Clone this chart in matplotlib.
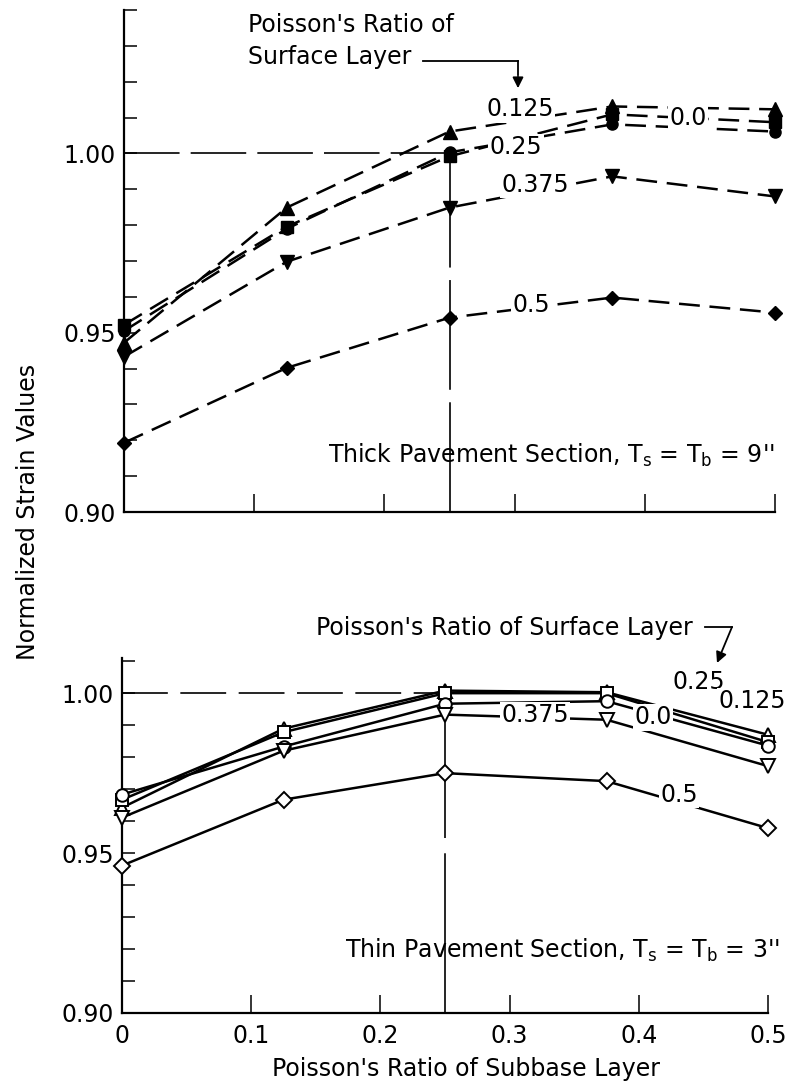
import numpy as np
import matplotlib
matplotlib.use('Agg')
from matplotlib import pyplot as plt
from matplotlib.lines import Line2D
from matplotlib.patches import FancyArrowPatch

# Poisson's ratio of subbase layer (x axis)
nu_sub = [0.0, 0.125, 0.25, 0.375, 0.5]

# thick pavement section, Ts = Tb = 9"  (filled markers, dashed)
thick_0125 = [0.9472, 0.9849, 1.0061, 1.0131, 1.0123]
thick_000 = [0.9522, 0.9796, 0.9992, 1.0109, 1.0087]
thick_025 = [0.9505, 0.9790, 1.0003, 1.0081, 1.0061]
thick_0375 = [0.9433, 0.9698, 0.9849, 0.9936, 0.9880]
thick_050 = [0.9193, 0.9402, 0.9542, 0.9598, 0.9556]

# thin pavement section, Ts = Tb = 3"  (open markers, solid)
thin_025 = [0.9642, 0.9889, 1.0008, 1.0003, 0.9870]
thin_0125 = [0.9667, 0.9878, 1.0000, 1.0000, 0.9847]
thin_000 = [0.9683, 0.9833, 0.9967, 0.9975, 0.9836]
thin_0375 = [0.9611, 0.9820, 0.9933, 0.9917, 0.9772]
thin_050 = [0.9461, 0.9667, 0.9750, 0.9725, 0.9578]

x_ticks = [0, 0.1, 0.2, 0.3, 0.4, 0.5]
x_labels = ['0', '0.1', '0.2', '0.3', '0.4', '0.5']
y_ticks = [0.90, 0.95, 1.00]
y_labels = ['0.90', '0.95', '1.00']

matplotlib.rcParams['font.family'] = 'DejaVu Sans'
matplotlib.rcParams['font.size'] = 17
matplotlib.rcParams['lines.scale_dashes'] = False
matplotlib.rcParams['mathtext.default'] = 'regular'

W, H = 795, 1081
f1 = plt.figure(figsize=(W / 100, H / 100), dpi=100)

def px(x0, y0, x1, y1):
    # box in pixel (top-left origin) -> figure fraction
    return [x0 / W, 1 - y1 / H, (x1 - x0) / W, (y1 - y0) / H]

def fp(x, y):
    # pixel point (top-left origin) -> figure fraction
    return (x / W, 1 - y / H)

ax1 = f1.add_axes(px(124, 10, 775, 512))
ax2 = f1.add_axes(px(122, 658, 768, 1013))

def style_axes(ax, ytop, show_x):
    for s in ('top', 'right'):
        ax.spines[s].set_visible(False)
    ax.spines['left'].set_linewidth(1.6)
    ax.spines['bottom'].set_linewidth(1.6)
    ax.set_xlim(0, 0.5)
    ax.set_ylim(0.90, ytop)
    ax.set_xticks(x_ticks)
    ax.set_xticklabels(x_labels if show_x else [])
    ax.set_yticks(y_ticks)
    ax.set_yticklabels(y_labels)
    ax.set_yticks(np.arange(0.91, ytop + 1e-4, 0.01), minor=True)
    ax.tick_params(axis='y', which='both', direction='in', length=9,
                   width=1.1, pad=6, labelsize=17)
    ax.tick_params(axis='x', which='major', direction='in', length=13,
                   width=1.1, pad=8, labelsize=17)
    ax.xaxis.get_major_ticks()[0].tick1line.set_visible(False)

style_axes(ax1, 1.04, False)
style_axes(ax2, 1.011, True)

# guide lines at 1.00 and 0.25
ax1.hlines(1.0, 0, 0.25, colors='k', lw=1.2, linestyles=(0, (40, 8)))
ax1.vlines(0.25, 0.90, 1.0, colors='k', lw=1.2, linestyles=(0, (79, 9)))
ax2.hlines(1.0, 0, 0.25, colors='k', lw=1.2, linestyles=(0, (33, 9)))
ax2.vlines(0.25, 0.90, 1.0, colors='k', lw=1.2, linestyles=(0, (115, 11)))

# thick section
dash = (0, (15, 7))
for yv, mk, ms in ((thick_0125, '^', 10), (thick_000, 's', 8),
                   (thick_025, 'o', 8), (thick_0375, 'v', 10),
                   (thick_050, 'D', 7)):
    ax1.plot(nu_sub, yv, ls=dash, c='k', lw=1.8, marker=mk, ms=ms,
             mfc='k', mec='k', zorder=3, clip_on=False)

# thin section
for yv, mk, ms in ((thin_025, '^', 10), (thin_0125, 's', 8),
                   (thin_000, 'o', 9), (thin_0375, 'v', 10),
                   (thin_050, 'D', 8)):
    ax2.plot(nu_sub, yv, ls='-', c='k', lw=1.8, marker=mk, ms=ms,
             mfc='white', mec='k', mew=1.4, zorder=3, clip_on=False)

box = dict(fc='white', ec='none', pad=1.0)
for ax, txt, x, y in ((ax1, '0.125', 0.304, 1.0123), (ax1, '0.0', 0.433, 1.0100),
                      (ax1, '0.25', 0.301, 1.0017), (ax1, '0.375', 0.316, 0.9913),
                      (ax1, '0.5', 0.3126, 0.9578),
                      (ax2, '0.25', 0.4466, 1.0036), (ax2, '0.125', 0.4876, 0.9975),
                      (ax2, '0.375', 0.3197, 0.9931), (ax2, '0.0', 0.411, 0.9925),
                      (ax2, '0.5', 0.431, 0.9683)):
    ax.text(x, y, txt, ha='center', va='center', bbox=box, zorder=5)

ax1.text(1.0, 0.1135, "Thick Pavement Section, $T_s$ = $T_b$ = 9''",
         transform=ax1.transAxes, ha='right', va='center')
ax2.text(1.0186, 0.177, "Thin Pavement Section, $T_s$ = $T_b$ = 3''",
         transform=ax2.transAxes, ha='right', va='center')

# surface layer captions with arrows
f1.text(*fp(248, 25), "Poisson's Ratio of", ha='left', va='center')
t_top = f1.text(*fp(248, 57), "Surface Layer", ha='left', va='center')
t_bot = f1.text(*fp(693, 628), "Poisson's Ratio of Surface Layer",
                ha='right', va='center')

f1.canvas.draw()
x_end = t_top.get_window_extent().x1 + 12

f1.add_artist(Line2D([x_end / W, 518 / W], [1 - 61 / H, 1 - 61 / H],
                     color='k', lw=1.3))
f1.add_artist(Line2D([518 / W, 518 / W], [1 - 61 / H, 1 - 75 / H],
                     color='k', lw=1.3))
f1.add_artist(FancyArrowPatch(fp(518, 74), fp(518, 91),
                              transform=f1.transFigure, arrowstyle='-|>',
                              mutation_scale=16, color='k', lw=1.3))

f1.add_artist(Line2D([705 / W, 732 / W], [1 - 627 / H, 1 - 627 / H],
                     color='k', lw=1.3))
f1.add_artist(FancyArrowPatch(fp(732, 627), fp(717, 663),
                              transform=f1.transFigure, arrowstyle='-|>',
                              mutation_scale=16, color='k', lw=1.3,
                              shrinkA=0, shrinkB=0))

f1.text(*fp(466, 1069), "Poisson's Ratio of Subbase Layer",
        ha='center', va='center')
f1.text(*fp(28, 512), "Normalized Strain Values", rotation=90,
        ha='center', va='center')

f1.savefig('out.png', dpi=100)
